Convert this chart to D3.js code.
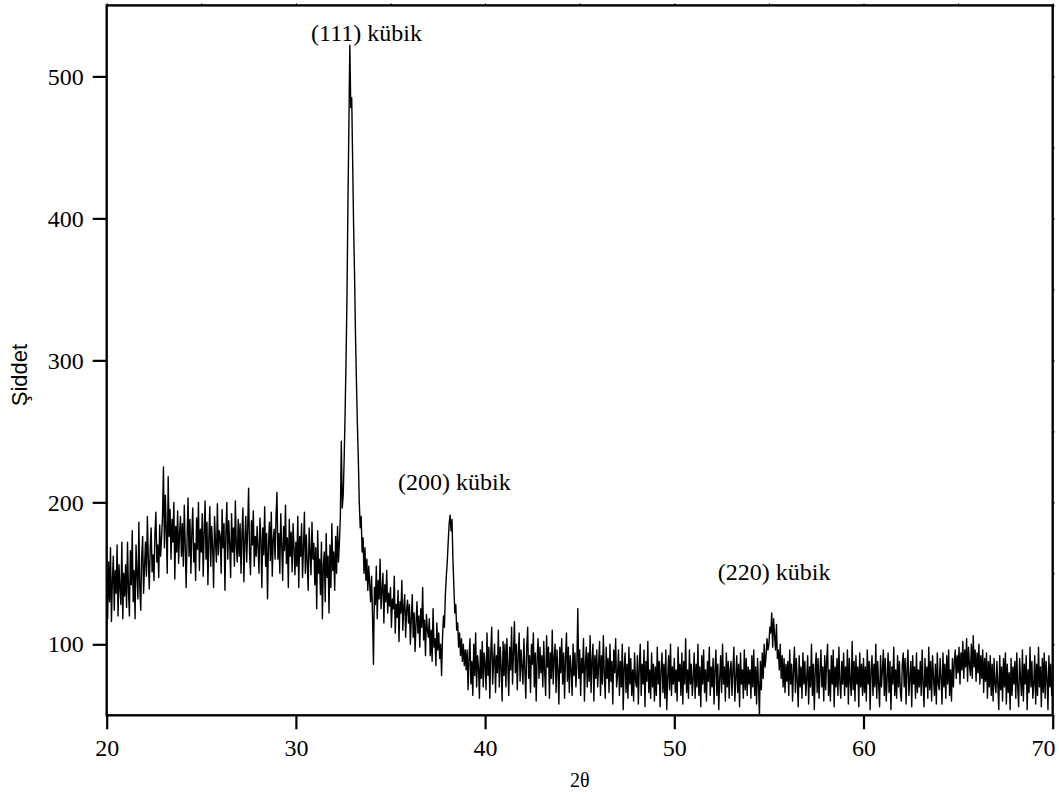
<!DOCTYPE html>
<html>
<head>
<meta charset="utf-8">
<script src="https://cdn.jsdelivr.net/npm/d3@7"></script>
<style>
  body { margin: 0; background: #fff; }
  .tick text { font-family: "Liberation Serif", "Times New Roman", serif; font-size: 24px; fill: #000; }
</style>
</head>
<body>
<svg width="1059" height="802"></svg>
<script>
// XRD pattern, one row of intensities per degree (step 0.05)
var degrees = [20,21,22,23,24,25,26,27,28,29,30,31,32,33,34,35,36,37,38,39,40,41,42,43,44,45,
               46,47,48,49,50,51,52,53,54,55,56,57,58,59,60,61,62,63,64,65,66,67,68,69,70];
var stepAngle = 0.05;
var intensity = [
  [150,118,158,130,168,116,145,162,124,152,136,170,120,156,140,128,172,118,150,134],
  [156,126,172,138,120,166,142,180,130,152,118,170,150,132,186,140,124,162,176,136],
  [155,172,148,190,160,139,168,182,151,163,145,178,193,158,170,147,184,162,175,190],
  [225,168,205,180,150,218,176,195,160,188,172,200,146,183,165,194,157,178,190,162],
  [185,155,198,170,140,176,203,162,188,150,179,196,158,171,145,189,167,200,152,181],
  [165,192,148,178,201,160,186,142,175,197,155,183,168,140,190,172,158,199,163,180],
  [176,150,195,168,185,138,179,200,160,187,171,147,192,165,182,155,201,170,158,188],
  [162,185,150,178,196,144,173,190,158,181,210,165,149,187,170,194,155,176,162,183],
  [168,150,189,175,140,182,163,197,155,178,132,170,186,159,193,148,174,181,160,190],
  [207,160,178,150,192,170,145,183,166,198,157,175,140,188,162,179,151,185,168,149],
  [172,155,190,140,176,162,185,147,168,193,150,177,158,138,182,165,149,186,160,171],
  [142,168,125,180,150,160,135,172,118,155,165,130,178,147,162,122,170,140,185,152],
  [165,138,176,150,183,158,172,190,243,196,205,230,262,300,345,410,465,522,478,485],
  [440,395,360,318,285,255,230,200,182,190,165,175,150,168,145,160,138,155,142,130],
  [148,120,86,140,128,155,118,145,132,160,125,138,150,115,142,130,152,122,136,127],
  [140,112,132,125,148,108,128,119,138,102,130,122,145,110,126,135,105,124,131,115],
  [128,100,118,135,105,122,95,115,130,108,120,98,125,112,140,103,117,92,121,110],
  [105,118,92,110,88,125,98,104,85,115,96,108,90,100,78,105,120,112,135,148],
  [158,172,185,191,180,188,160,140,122,128,110,115,98,108,92,104,88,100,85,96],
  [82,96,68,90,104,72,88,64,100,78,108,70,92,84,62,96,76,102,70,94],
  [86,68,108,78,98,62,94,112,72,88,100,66,92,80,110,70,98,84,60,102],
  [78,100,70,104,86,64,98,82,112,72,94,116,80,100,68,92,108,74,96,84],
  [72,104,82,62,98,112,76,92,66,100,86,108,70,94,60,90,104,76,98,80],
  [92,70,102,80,64,106,84,98,62,94,76,110,72,90,100,66,96,82,58,98],
  [80,104,72,94,62,90,108,74,98,66,92,82,64,100,78,94,70,86,125,76],
  [96,64,90,80,104,60,86,98,70,94,74,106,66,88,100,60,92,76,96,70],
  [86,102,64,92,72,106,80,62,98,76,90,66,100,74,88,58,96,80,104,70],
  [78,96,64,88,70,100,54,84,94,66,86,62,98,72,90,64,82,60,94,74],
  [70,92,58,84,100,64,86,72,96,56,88,74,102,66,82,62,94,70,86,60],
  [84,64,98,72,88,56,82,94,66,86,62,96,54,76,92,68,100,64,84,72],
  [90,66,82,60,98,74,86,64,94,58,88,72,104,66,82,62,96,72,86,64],
  [76,94,62,86,70,100,64,84,56,92,72,96,66,82,60,88,74,98,64,84],
  [70,90,58,82,96,64,86,54,76,92,66,100,72,84,60,94,70,88,62,82],
  [88,64,82,98,60,76,92,66,86,56,94,72,82,62,96,68,90,64,84,72],
  [82,62,92,70,96,64,84,58,90,72,50,88,68,94,76,100,84,92,104,96],
  [100,112,108,122,98,118,106,96,114,90,96,82,100,76,92,70,90,66,86,74],
  [88,64,96,72,86,60,82,98,66,90,74,56,92,70,84,62,94,72,88,64],
  [76,92,58,84,70,100,64,86,54,82,94,66,90,62,80,96,70,84,60,92],
  [68,88,100,64,82,60,92,72,96,56,84,70,90,64,98,74,62,88,72,94],
  [64,84,70,96,58,90,74,64,102,68,88,60,92,72,84,56,94,70,86,64],
  [90,66,84,60,96,72,88,54,82,92,64,86,70,100,62,88,72,56,92,70],
  [82,96,64,90,60,76,94,66,88,54,84,72,98,64,82,62,92,70,88,66],
  [60,86,94,70,90,58,82,96,64,76,88,56,92,72,84,62,94,66,82,70],
  [88,64,96,72,56,90,70,84,62,98,68,88,60,92,76,64,86,58,94,72],
  [68,90,76,58,94,70,86,62,92,72,96,64,82,60,90,70,88,96,76,92],
  [80,98,72,94,82,102,76,96,84,104,74,98,86,78,100,76,106,84,96,74],
  [94,80,100,72,92,76,96,66,90,74,94,62,88,70,92,64,86,60,90,72],
  [66,88,72,54,92,68,84,60,90,70,94,58,86,66,80,54,90,64,84,72],
  [88,62,94,70,56,90,76,64,96,60,86,72,92,54,82,66,98,70,88,62],
  [72,92,58,86,64,98,70,84,56,90,66,94,62,88,76,54,92,70,86,64],
  [78]
];
var xTicks = [20,30,40,50,60,70];
var yTicks = [100,200,300,400,500];
var peakLabels = ["(111) kübik", "(200) kübik", "(220) kübik"];
var peakLabelX = [30.8, 35.4, 52.3];
var peakLabelY = [525, 209, 145];

var svg = d3.select("svg");

var x = d3.scaleLinear().domain([20, 70]).range([106.7, 1052.7]);
var y = d3.scaleLinear().domain([50, 550]).range([715.3, 5.4]);

// flatten rows into points
var points = [];
intensity.forEach(function (row, i) {
    row.forEach(function (v, j) {
        points.push({t: degrees[i] + j * stepAngle, v: v});
    });
});

// the pattern
svg.append("path")
    .datum(points)
    .attr("fill", "none")
    .attr("stroke", "#000")
    .attr("stroke-width", 1.4)
    .attr("stroke-linejoin", "round")
    .attr("d", d3.line().x(function (d) { return x(d.t); }).y(function (d) { return y(d.v); }));

// axes
var gx = svg.append("g")
    .attr("transform", "translate(0," + y(50) + ")")
    .call(d3.axisBottom(x).tickValues(xTicks).tickSize(14).tickPadding(10).tickFormat(d3.format("d")));
var gy = svg.append("g")
    .attr("transform", "translate(" + x(20) + ",0)")
    .call(d3.axisLeft(y).tickValues(yTicks).tickSize(14).tickPadding(9).tickFormat(d3.format("d")));
[gx, gy].forEach(function (g) {
    g.select(".domain").remove();
    g.selectAll(".tick line").attr("stroke", "#000").attr("stroke-width", 2.2);
});
// last x label sits left of its tick, as in the original
gx.selectAll(".tick text").filter(function (d) { return d === 70; })
    .attr("text-anchor", "end").attr("dx", "0.1em");

// small ticks on top and right
svg.append("g")
    .attr("transform", "translate(0," + y(550) + ")")
    .call(d3.axisTop(x).tickValues(d3.range(20, 71, 5)).tickSize(2).tickFormat(""))
    .select(".domain").remove();
svg.append("g")
    .attr("transform", "translate(" + x(70) + ",0)")
    .call(d3.axisRight(y).tickValues(d3.range(50, 551, 50)).tickSize(2).tickFormat(""))
    .select(".domain").remove();

// frame
svg.append("rect")
    .attr("x", x(20)).attr("y", y(550))
    .attr("width", x(70) - x(20)).attr("height", y(50) - y(550))
    .attr("fill", "none").attr("stroke", "#000").attr("stroke-width", 2.4);

// peak labels
svg.append("g").selectAll("text")
    .data(peakLabels)
    .enter().append("text")
    .attr("x", function (d, i) { return x(peakLabelX[i]); })
    .attr("y", function (d, i) { return y(peakLabelY[i]); })
    .attr("font-family", "Liberation Serif, serif")
    .attr("font-size", 24)
    .text(function (d) { return d; });

// axis titles
svg.append("text")
    .attr("x", (x(20) + x(70)) / 2).attr("y", 787)
    .attr("text-anchor", "middle")
    .attr("font-family", "Liberation Serif, serif")
    .attr("font-size", 20)
    .text("2θ");
svg.append("text")
    .attr("transform", "translate(27,375) rotate(-90)")
    .attr("text-anchor", "middle")
    .attr("font-family", "Liberation Sans, Arial, sans-serif")
    .attr("font-size", 22)
    .text("Şiddet");
</script>
</body>
</html>
